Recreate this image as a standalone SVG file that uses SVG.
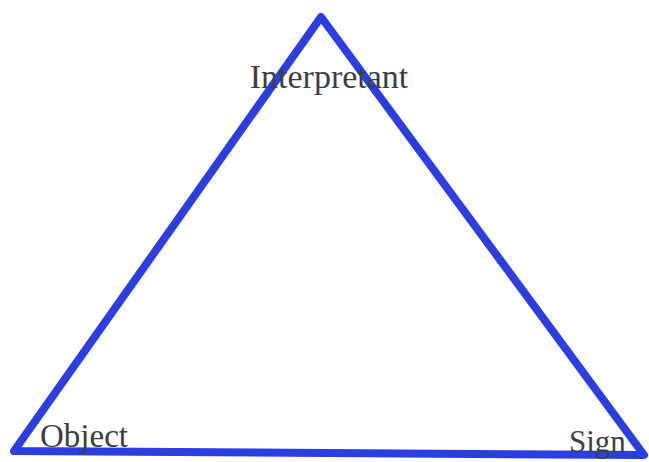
<svg xmlns="http://www.w3.org/2000/svg" width="649" height="462" viewBox="0 0 649 462">
<style>
.edge{fill:none;stroke:#2b3ee0;stroke-width:8;stroke-linejoin:round;stroke-linecap:round}
.lbl{font-family:"Liberation Serif","Times New Roman",serif;fill:#3a3f45}
</style>
<rect width="649" height="462" fill="#ffffff"/>
<g id="connectors">
<path class="edge" d="M321,17 L644,455 L14,451 Z"/>
</g>
<g id="interpretant"><text class="lbl" x="329" y="88" font-size="34" text-anchor="middle">Interpretant</text></g>
<g id="object"><text class="lbl" x="40" y="447" font-size="33">Object</text></g>
<g id="sign"><text class="lbl" x="569" y="452" font-size="31">Sign</text></g>
</svg>
